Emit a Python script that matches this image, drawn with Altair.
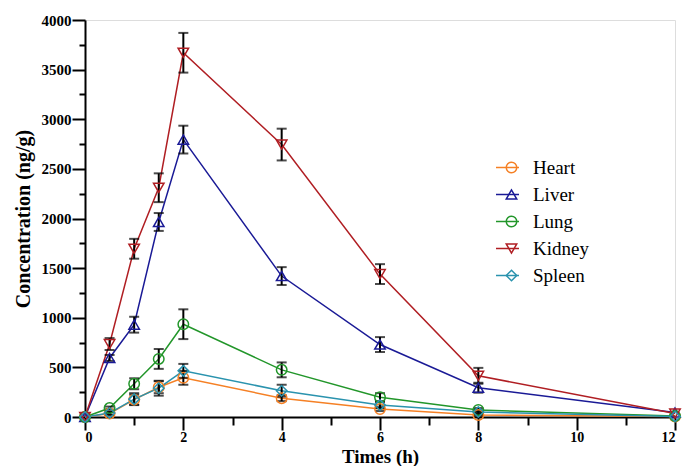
import altair as alt
import pandas as pd

times = [0, 0.5, 1, 1.5, 2, 4, 6, 8, 12]
organs = ["Heart", "Liver", "Lung", "Kidney", "Spleen"]

heart = [0, 35, 175, 300, 395, 190, 80, 20, 5]
liver = [0, 595, 930, 1965, 2795, 1420, 730, 295, 45]
lung = [0, 90, 335, 585, 935, 475, 200, 70, 10]
kidney = [0, 735, 1695, 2310, 3670, 2745, 1440, 415, 35]
spleen = [0, 40, 180, 290, 465, 265, 120, 50, 5]

heart_err = [0, 15, 50, 60, 70, 30, 20, 10, 0]
liver_err = [0, 30, 80, 90, 140, 90, 75, 50, 0]
lung_err = [0, 15, 55, 100, 150, 75, 40, 20, 0]
kidney_err = [0, 60, 100, 145, 200, 160, 100, 80, 0]
spleen_err = [0, 15, 60, 75, 70, 60, 30, 15, 0]

colors = ["#F58025", "#1A1A96", "#22962A", "#B01E23", "#2A93AE"]
shapes = ["circle", "triangle-up", "circle", "triangle-down", "diamond"]

x_major = [0, 2, 4, 6, 8, 10, 12]
x_minor = [1, 3, 5, 7, 9, 11]
y_major = [0, 500, 1000, 1500, 2000, 2500, 3000, 3500, 4000]
y_minor = [250, 750, 1250, 1750, 2250, 2750, 3250, 3750]

values = [heart, liver, lung, kidney, spleen]
errors = [heart_err, liver_err, lung_err, kidney_err, spleen_err]

rows = []
for organ, vals, errs in zip(organs, values, errors):
    for t, v, e in zip(times, vals, errs):
        rows.append({"Organ": organ, "Time": t, "Conc": v, "Lo": v - e, "Hi": v + e})
df = pd.DataFrame(rows)

FONT = "Liberation Serif"

xscale = alt.Scale(domain=[0, 12], nice=False)
yscale = alt.Scale(domain=[0, 4000], nice=False)

x_axis_main = alt.Axis(
    values=x_major, orient="bottom", format="d", grid=False,
    tickSize=13, tickWidth=2, tickColor="black",
    domainWidth=2, domainColor="black",
    labelFont=FONT, labelFontWeight="bold", labelFontSize=14, labelColor="black",
    labelPadding=0,
    title="Times (h)", titleFont=FONT, titleFontSize=19, titleFontWeight="bold",
    titleColor="black", titleY=45, titleBaseline="alphabetic",
)
x_axis_minor = alt.Axis(
    values=x_minor, orient="bottom", grid=False, domain=False, labels=False,
    tickSize=8, tickWidth=2, tickColor="black", title="",
)
y_axis_main = alt.Axis(
    values=y_major, orient="left", format="d", grid=False,
    tickSize=13, tickWidth=2, tickColor="black",
    domainWidth=2, domainColor="black",
    labelFont=FONT, labelFontWeight="bold", labelFontSize=15, labelColor="black",
    labelPadding=1,
    title="Concentration (ng/g)", titleFont=FONT, titleFontSize=20,
    titleFontWeight="bold", titleColor="black", titlePadding=8,
)
y_axis_minor = alt.Axis(
    values=y_minor, orient="left", grid=False, domain=False, labels=False,
    tickSize=6, tickWidth=2, tickColor="black", title="",
)

line_legend = alt.Legend(
    orient="none", legendX=410, legendY=134, title=None,
    symbolType="stroke", symbolSize=529, symbolStrokeWidth=1.5,
    labelFont=FONT, labelFontSize=19, labelExpr="''",
    clipHeight=27, rowPadding=0, padding=0, labelOffset=14,
)
shape_legend = alt.Legend(
    orient="none", legendX=417, legendY=134, title=None,
    symbolSize=110, symbolStrokeWidth=1.5,
    labelFont=FONT, labelFontSize=19, labelColor="black",
    clipHeight=27, rowPadding=0, padding=0, labelOffset=12,
)

base = alt.Chart(df)

lines = base.mark_line(strokeWidth=1.5).encode(
    x=alt.X("Time:Q", scale=xscale, axis=x_axis_main),
    y=alt.Y("Conc:Q", scale=yscale, axis=y_axis_main),
    color=alt.Color("Organ:N", scale=alt.Scale(domain=organs, range=colors),
                    legend=line_legend, sort=organs),
)

errbars = base.transform_filter("datum.Hi > datum.Lo").mark_errorbar(
    ticks={"size": 10, "thickness": 2}, rule={"strokeWidth": 2}, color="black"
).encode(
    x=alt.X("Time:Q", scale=xscale, axis=x_axis_minor),
    y=alt.Y("Lo:Q", scale=yscale, axis=y_axis_minor),
    y2="Hi:Q",
)

points = base.mark_point(filled=False, size=110, strokeWidth=1.5, opacity=1).encode(
    x=alt.X("Time:Q", scale=xscale, axis=None),
    y=alt.Y("Conc:Q", scale=yscale, axis=None),
    color=alt.Color("Organ:N", scale=alt.Scale(domain=organs, range=colors),
                    legend=shape_legend, sort=organs),
    shape=alt.Shape("Organ:N", scale=alt.Scale(domain=organs, range=shapes),
                    legend=shape_legend, sort=organs),
)

chart = alt.layer(lines, errbars, points).resolve_scale(
    color="independent", shape="independent"
).resolve_axis(
    x="independent", y="independent"
).properties(
    width=590, height=397,
    autosize=alt.AutoSizeParams(type="none"),
    padding={"left": 77, "top": 12, "right": 8, "bottom": 49},
).configure_view(stroke=None).configure(background="white")

chart.save("out.html", embed_options={"renderer": "svg", "actions": False})
